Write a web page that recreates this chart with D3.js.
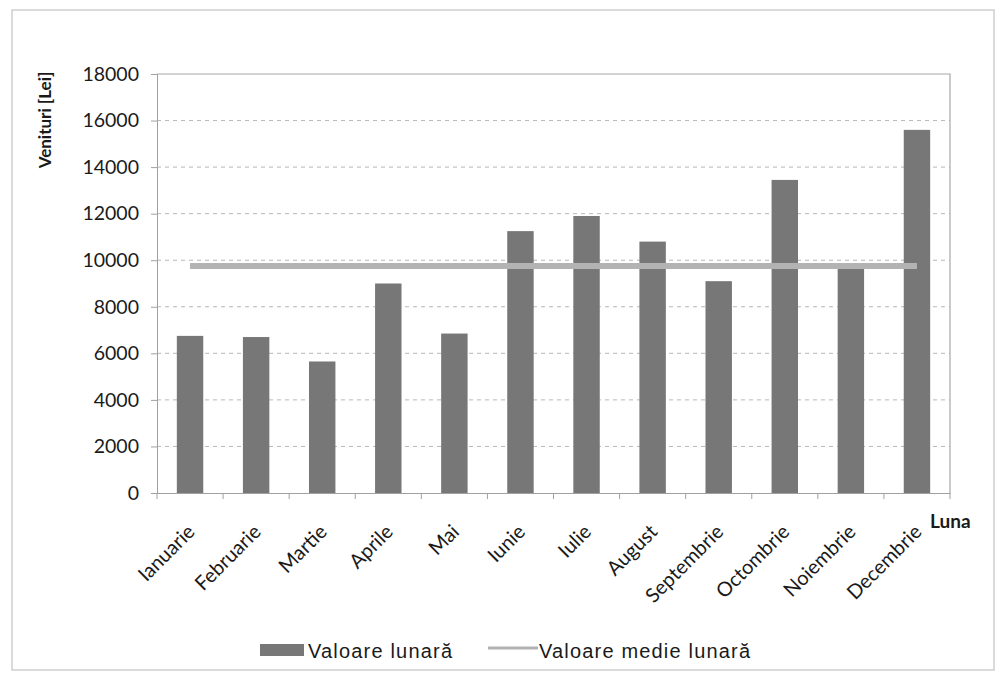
<!DOCTYPE html>
<html><head><meta charset="utf-8">
<script src="https://cdn.jsdelivr.net/npm/d3@7"></script>
<style>body{margin:0;background:#fff}svg{display:block}</style>
</head><body>
<svg id="c" width="1002" height="681"></svg>
<script>
const months = ["Ianuarie","Februarie","Martie","Aprile","Mai","Iunie","Iulie","August","Septembrie","Octombrie","Noiembrie","Decembrie"];
const monthlyValues = [6750,6700,5650,9000,6850,11250,11900,10800,9100,13450,9650,15600];
const averageValues = [9750,9750,9750,9750,9750,9750,9750,9750,9750,9750,9750,9750];
const yTicks = [0,2000,4000,6000,8000,10000,12000,14000,16000,18000];
const seriesNames = ["Valoare lunară","Valoare medie lunară"];
const yTitle = "Venituri [Lei]";
const xTitle = "Luna";

const svg = d3.select("#c");
const L = 157, R = 950, T = 74, B = 493;
svg.append("rect").attr("x",12).attr("y",10).attr("width",982).attr("height",660)
  .attr("fill","#fff").attr("stroke","#cfcfcf").attr("stroke-width",1.5);

const x = d3.scaleBand().domain(months).range([L,R]).paddingInner(0.6).paddingOuter(0.3);
const xb = d3.scaleBand().domain(months).range([L,R]);
const y = d3.scaleLinear().domain([0,18000]).range([B,T]);

// gridlines
svg.append("g").selectAll("line").data(yTicks.filter(d=>d>0 && d<18000)).join("line")
  .attr("x1",L).attr("x2",R).attr("y1",d=>y(d)).attr("y2",d=>y(d))
  .attr("stroke","#b8b8b8").attr("stroke-dasharray","4,4").attr("stroke-width",1);
// plot border top/right
svg.append("path").attr("d",`M${L},${T}H${R}V${B}`).attr("fill","none").attr("stroke","#a8a8a8").attr("stroke-width",1.2);

// y axis
const yAxis = d3.axisLeft(y).tickValues(yTicks).tickSize(6).tickPadding(12).tickFormat(d3.format("d"));
const gy = svg.append("g").attr("transform",`translate(${L},0)`).call(yAxis);
gy.select(".domain").attr("stroke","#a0a0a0");
gy.selectAll(".tick line").attr("stroke","#a0a0a0");
gy.selectAll("text").attr("font-family","Lato, 'Open Sans', sans-serif").attr("font-size",19.5).attr("fill","#1a1a1a");

// bars
svg.append("g").selectAll("rect").data(months).join("rect")
  .attr("x",d=>x(d)).attr("width",x.bandwidth())
  .attr("y",(d,i)=>y(monthlyValues[i])).attr("height",(d,i)=>B-y(monthlyValues[i]))
  .attr("fill","#777777");

// x axis
const xAxis = d3.axisBottom(xb).tickSize(0).tickFormat("");
const gx = svg.append("g").attr("transform",`translate(0,${B})`).call(xAxis);
gx.select(".domain").attr("stroke","#a0a0a0");
const bounds = months.map(m=>xb(m)).concat([R]);
svg.append("g").selectAll("line").data(bounds).join("line")
  .attr("x1",d=>d).attr("x2",d=>d).attr("y1",B).attr("y2",B+6).attr("stroke","#a0a0a0");

svg.append("g").selectAll("text").data(months).join("text")
  .attr("text-anchor","end")
  .attr("transform",d=>`translate(${xb(d)+xb.bandwidth()/2+6},${B+40}) rotate(-45)`)
  .attr("font-family","Lato, 'Open Sans', sans-serif").attr("font-size",20).attr("fill","#1a1a1a")
  .text(d=>d);

// average line
const line = d3.line().x((d,i)=>xb(months[i])+xb.bandwidth()/2).y(d=>y(d));
svg.append("path").datum(averageValues).attr("d",line)
  .attr("fill","none").attr("stroke","#b3b3b3").attr("stroke-width",6);

// titles
svg.append("text").attr("transform",`translate(51,120) rotate(-90)`).attr("text-anchor","middle")
  .attr("font-family","Lato, 'Open Sans', sans-serif").attr("font-weight","bold").attr("font-size",17).attr("fill","#1a1a1a")
  .text(yTitle);
svg.append("text").attr("x",930).attr("y",528)
  .attr("font-family","Lato, 'Open Sans', sans-serif").attr("font-weight","bold").attr("font-size",19).attr("fill","#1a1a1a")
  .text(xTitle);

// legend
const lg = svg.append("g").attr("font-family","'Liberation Sans', Arial, sans-serif").attr("font-size",20).attr("fill","#1a1a1a");
lg.append("rect").attr("x",260).attr("y",644).attr("width",44).attr("height",12).attr("fill","#777777");
lg.append("text").attr("x",308).attr("y",658).attr("textLength",144).attr("lengthAdjust","spacing").text(seriesNames[0]);
lg.append("line").attr("x1",488).attr("x2",538).attr("y1",648).attr("y2",648).attr("stroke","#b3b3b3").attr("stroke-width",3);
lg.append("text").attr("x",539).attr("y",658).attr("textLength",211).attr("lengthAdjust","spacing").text(seriesNames[1]);
</script>
</body></html>
